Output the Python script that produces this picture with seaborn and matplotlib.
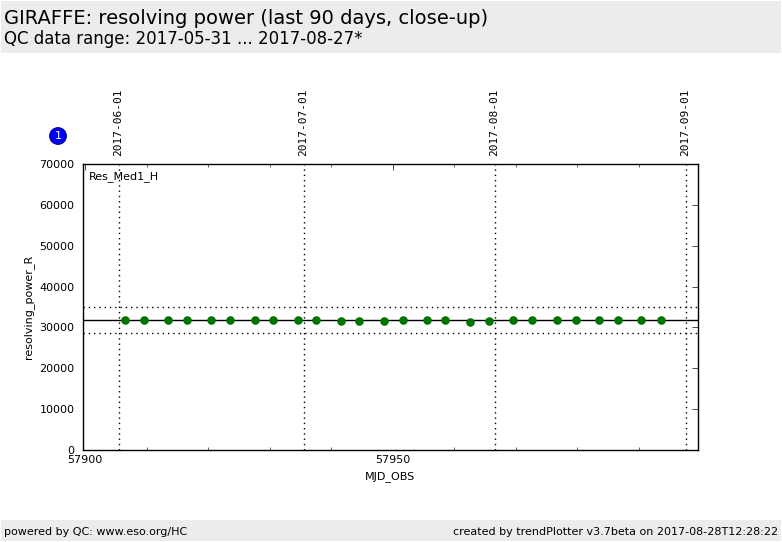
import matplotlib
matplotlib.use("Agg")
import matplotlib.pyplot as plt
from matplotlib.patches import Rectangle
from matplotlib.ticker import MultipleLocator
import pandas as pd
import seaborn as sns

mjd = [57906.48, 57909.56, 57913.46, 57916.55, 57920.45, 57923.54, 57927.6, 57930.5,
       57934.6, 57937.5, 57941.6, 57944.5, 57948.6, 57951.65, 57955.55, 57958.5,
       57962.55, 57965.6, 57969.5, 57972.6, 57976.7, 57979.8, 57983.5, 57986.6,
       57990.4, 57993.6]
res = [31800, 31800, 31800, 31800, 31800, 31800, 31800, 31800,
       31800, 31800, 31600, 31600, 31600, 31800, 31800, 31800,
       31300, 31600, 31800, 31800, 31800, 31800, 31800, 31800,
       31800, 31800]
median_r = 31800
limits_r = [34900, 28550]
date_mjd = [57905.55, 57935.6, 57966.6, 57997.6]
date_labels = ["2017-06-01", "2017-07-01", "2017-08-01", "2017-09-01"]
y_ticks = [0, 10000, 20000, 30000, 40000, 50000, 60000, 70000]
x_ticks = [57900, 57950]

W, H = 782, 542
sns.set_style("white")
plt.rcParams["font.family"] = ["DejaVu Sans"]
plt.rcParams["font.size"] = 8

fig = plt.figure(figsize=(W / 100, H / 100), dpi=100, facecolor="white")
ax = fig.add_axes([83 / W, 1 - 450 / H, (698 - 83) / W, (450 - 164) / H])

fig.add_artist(Rectangle((1 / W, 1 - 53 / H), 780 / W, 52 / H, transform=fig.transFigure,
                         facecolor="#ececec", edgecolor="none"))
fig.add_artist(Rectangle((1 / W, 1 - 541 / H), 780 / W, 21 / H, transform=fig.transFigure,
                         facecolor="#ececec", edgecolor="none"))

df = pd.DataFrame({"MJD_OBS": mjd, "resolving_power_R": res})
ax.axhline(median_r, color="black", lw=1, zorder=2)
for v in limits_r:
    ax.axhline(v, color="black", lw=1, ls=(0, (1, 2.8)), zorder=2)
for d in date_mjd:
    ax.axvline(d, color="black", lw=1, ls=(0, (1, 2.8)), zorder=2)
sns.scatterplot(data=df, x="MJD_OBS", y="resolving_power_R", ax=ax, color="#007400",
                s=38, linewidth=0, zorder=3, legend=False)

ax.set_xlim(57899.65, 57999.6)
ax.set_ylim(0, 70000)
ax.set_xticks(x_ticks)
ax.xaxis.set_minor_locator(MultipleLocator(10))
ax.set_yticks(y_ticks)
ax.set_xticklabels([str(t) for t in x_ticks])
ax.tick_params(axis="both", which="major", direction="in", length=4.5, width=0.5,
               top=True, right=True, labelsize=8, pad=3.6, color="black", labelcolor="black")
ax.tick_params(axis="x", which="minor", direction="in", length=2, width=0.5, top=True,
               bottom=True)
ax.tick_params(axis="y", pad=6)
ax.set_xlabel("MJD_OBS", fontsize=8, labelpad=4.4, color="black")
ax.set_ylabel("resolving_power_R", fontsize=8, labelpad=4, color="black")
for s in ax.spines.values():
    s.set_visible(True)
    s.set_color("black")
    s.set_linewidth(1)

ax.text(89 / W, 1 - 177 / H, "Res_Med1_H", transform=fig.transFigure, fontsize=8,
        va="center", ha="left", color="black")

for d, lab in zip(date_mjd, date_labels):
    ax.annotate(lab, xy=(d, 1), xycoords=("data", "axes fraction"), xytext=(-0.6, 6),
                textcoords="offset points", rotation=90, ha="center", va="bottom",
                fontsize=8, family="DejaVu Sans Mono", color="black")

fig.text(58 / W, 1 - 136 / H, "1", color="white", fontsize=8, ha="center", va="center",
         bbox=dict(boxstyle="circle,pad=0.3", facecolor="#0000ff", edgecolor="#000080", lw=0.8))

fig.text(4 / W, 1 - 18 / H, "GIRAFFE: resolving power (last 90 days, close-up)",
         fontsize=14, va="center", ha="left", color="black")
fig.text(4 / W, 1 - 39.5 / H, "QC data range: 2017-05-31 ... 2017-08-27*",
         fontsize=12, va="center", ha="left", color="black")
fig.text(4 / W, 1 - 532 / H, "powered by QC: www.eso.org/HC", fontsize=8, va="center",
         ha="left", color="black")
fig.text(778 / W, 1 - 532 / H, "created by trendPlotter v3.7beta on 2017-08-28T12:28:22",
         fontsize=8, va="center", ha="right", color="black")

fig.savefig("out.png", dpi=100, facecolor="white")
